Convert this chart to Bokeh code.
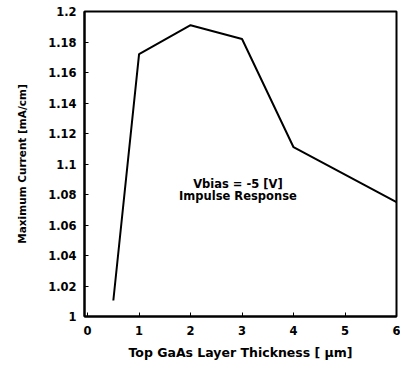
from bokeh.plotting import figure
from bokeh.models import Range1d, Label, FixedTicker
from bokeh.embed import file_html
from bokeh.resources import INLINE

thickness = [0.5, 1, 2, 3, 4, 6]
current = [1.0105, 1.172, 1.191, 1.182, 1.111, 1.075]
x_ticks = [0, 1, 2, 3, 4, 5, 6]
y_ticks = [1.0, 1.02, 1.04, 1.06, 1.08, 1.1, 1.12, 1.14, 1.16, 1.18, 1.2]
y_tick_labels = {1.0: "1", 1.02: "1.02", 1.04: "1.04", 1.06: "1.06", 1.08: "1.08",
                 1.1: "1.1", 1.12: "1.12", 1.14: "1.14", 1.16: "1.16", 1.18: "1.18", 1.2: "1.2"}
ann_lines = ["Vbias = -5 [V]", "Impulse Response"]

FONT = "DejaVu Sans"

p = figure(width=400, height=370, output_backend="svg", toolbar_location=None,
           x_range=Range1d(-0.06, 6.0), y_range=Range1d(1.0, 1.2),
           min_border_left=84, min_border_right=4, min_border_top=11, min_border_bottom=54)
p.background_fill_color = "white"
p.border_fill_color = "white"
p.grid.visible = False
p.outline_line_color = "black"
p.outline_line_width = 2

p.line(thickness, current, line_color="black", line_width=2)

for ax in (p.xaxis[0], p.yaxis[0]):
    ax.axis_line_width = 2
    ax.axis_line_color = "black"
    ax.major_tick_in = 4
    ax.major_tick_out = 0
    ax.minor_tick_in = 0
    ax.minor_tick_out = 0
    ax.major_tick_line_width = 1
    ax.major_label_text_font = FONT
    ax.major_label_text_font_style = "bold"
    ax.major_label_text_font_size = "11.5px"
    ax.major_label_text_color = "black"
    ax.axis_label_text_font = FONT
    ax.axis_label_text_font_style = "bold"
    ax.axis_label_text_color = "black"

p.xaxis.axis_label_text_font_size = "12.5px"
p.yaxis.axis_label_text_font_size = "10.5px"
p.xaxis.ticker = FixedTicker(ticks=x_ticks)
p.yaxis.ticker = FixedTicker(ticks=y_ticks)
p.yaxis.major_label_overrides = y_tick_labels
p.xaxis.major_label_standoff = 9
p.yaxis.major_label_standoff = 8
p.xaxis.axis_label = "Top GaAs Layer Thickness [ \u03bcm]"
p.yaxis.axis_label = "Maximum Current [mA/cm]"
p.xaxis.axis_label_standoff = 7
p.yaxis.axis_label_standoff = 17

ann_x = 2.92
ann_y = [1.0872, 1.0793]
for txt, yy in zip(ann_lines, ann_y):
    p.add_layout(Label(x=ann_x, y=yy, text=txt, text_align="center", text_baseline="middle",
                       text_font=FONT, text_font_style="bold", text_font_size="11.5px",
                       text_color="black"))

open("out.html", "w").write(file_html(p, INLINE))
